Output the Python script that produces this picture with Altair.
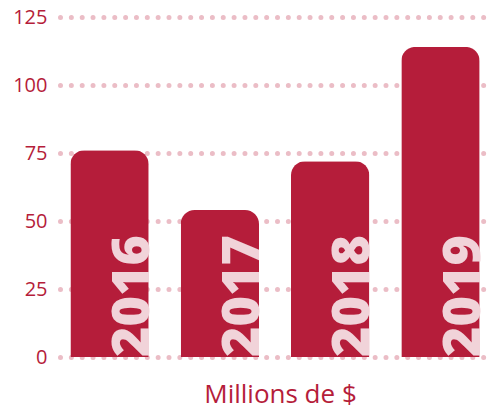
import altair as alt
import pandas as pd

years = ["2016", "2017", "2018", "2019"]
values = [76, 54, 72, 114]
y_ticks = [0, 25, 50, 75, 100, 125]

df = pd.DataFrame({"year": years, "value": values})

RED = "#b51d3a"
PINK = "#f1d3d9"
DOT = "#ebbdc6"

xscale = alt.Scale(paddingInner=0.29, paddingOuter=0.094)
yscale = alt.Scale(domain=[0, 125], nice=False)

base = alt.Chart(df)

bars = base.mark_bar(
    color=RED, cornerRadiusTopLeft=14, cornerRadiusTopRight=14
).encode(
    x=alt.X(
        "year:N",
        scale=xscale,
        axis=alt.Axis(
            labels=False, ticks=False, domain=False, grid=False,
            title="Millions de $", titleFont="Open Sans", titleFontSize=26,
            titleFontWeight="normal", titleColor=RED, titlePadding=24,
            titleX=220, titleAlign="center",
        ),
    ),
    y=alt.Y(
        "value:Q",
        scale=yscale,
        axis=alt.Axis(
            values=y_ticks, title=None, domain=False, ticks=False,
            labelFont="Open Sans", labelFontSize=20, labelColor=RED,
            labelPadding=13,
            grid=True, gridColor=DOT, gridWidth=5, gridDash=[0, 10.85],
            gridCap="round",
        ),
    ),
)

labels = base.mark_text(
    angle=270, align="left", baseline="alphabetic",
    font="Open Sans", fontSize=52, fontWeight=800, color=PINK,
).encode(
    x=alt.X("year:N", scale=xscale, bandPosition=1),
    y=alt.Y("zero:Q", scale=yscale),
    text="year:N",
).transform_calculate(zero="0")

chart = alt.layer(bars, labels).properties(
    width=430, height=340,
    autosize=alt.AutoSizeParams(type="none"),
    padding={"left": 52, "top": 9, "right": 0, "bottom": 54},
).configure_view(stroke=None).configure_axis(gridCap="round")

chart.save("out.html", embed_options={"renderer": "svg", "actions": False})
